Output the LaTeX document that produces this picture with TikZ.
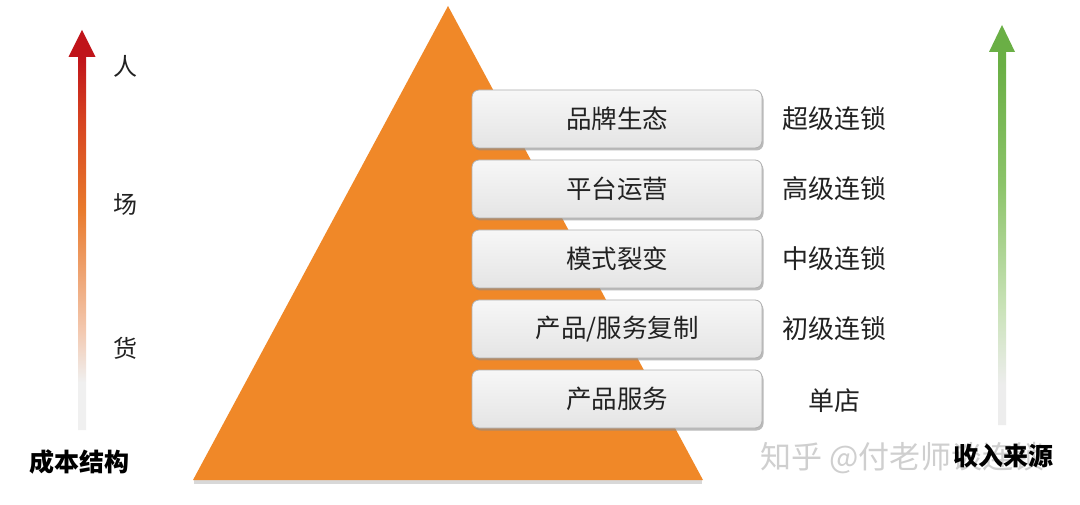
\documentclass[tikz,border=0pt]{standalone}
\usepackage{fontspec}
\setmainfont{Noto Sans CJK SC}
\usetikzlibrary{shadows}
\definecolor{tri}{HTML}{F08828}
\definecolor{boxtop}{HTML}{F7F7F7}
\definecolor{boxbot}{HTML}{E4E4E4}
\definecolor{boxline}{HTML}{B0B0B0}
\definecolor{txt}{HTML}{222222}
\definecolor{wm}{HTML}{CFCFCF}
\pgfdeclareverticalshading{costfade}{100bp}{%
  color(0bp)=(black!6); color(25bp)=(black!6); color(31bp)=(black!6!white);
  color(37.5bp)=(rgb,255:red,243;green,200;blue,175);
  color(52.5bp)=(rgb,255:red,233;green,122;blue,44); color(64bp)=(rgb,255:red,214;green,66;blue,32);
  color(71.5bp)=(rgb,255:red,192;green,20;blue,26); color(100bp)=(rgb,255:red,192;green,20;blue,26)}
\pgfdeclareverticalshading{incomefade}{100bp}{%
  color(0bp)=(black!7); color(30bp)=(black!7); color(40bp)=(rgb,255:red,200;green,226;blue,182);
  color(55bp)=(rgb,255:red,140;green,196;blue,106); color(70bp)=(rgb,255:red,106;green,175;blue,69);
  color(100bp)=(rgb,255:red,106;green,175;blue,69)}
\tikzset{
  layer/.style={rounded corners=7pt, draw=boxline, line width=0.8pt,
    top color=boxtop, bottom color=boxbot, minimum width=290pt, minimum height=58pt,
    drop shadow={shadow xshift=1.5pt, shadow yshift=-2.5pt, fill=black!45, opacity=0.6},
    font=\fontsize{25.5}{28}\selectfont, text=txt, inner sep=0pt},
  lvl/.style={font=\fontsize{26}{28}\selectfont, text=txt},
  side/.style={font=\fontsize{24}{28}\selectfont, text=txt},
  title/.style={font=\fontsize{25}{28}\selectfont\bfseries, text=black},
  wmtext/.style={font=\fontsize{31}{34}\selectfont, text=wm}
}
\begin{document}
\begin{tikzpicture}[x=1pt,y=-1pt]
\useasboundingbox (0,0) rectangle (1080,505);
\fill[white] (0,0) rectangle (1080,505);
% pyramid
\coordinate (apex) at (448,6);
\coordinate (bl) at (193,480);
\coordinate (br) at (703,480);
\fill[black!30, opacity=0.5] (194,480) -- (702,480) -- (702,484) -- (194,484) -- cycle;
\fill[tri] (apex) -- (br) -- (bl) -- cycle;
% layers
\node[layer] (l5) at (617,119) {品牌生态};
\node[layer] (l4) at (617,189) {平台运营};
\node[layer] (l3) at (617,259) {模式裂变};
\node[layer] (l2) at (617,329) {产品/服务复制};
\node[layer] (l1) at (617,399) {产品服务};
% level labels
\node[lvl] (r5) at (834,119) {超级连锁};
\node[lvl] (r4) at (834,189) {高级连锁};
\node[lvl] (r3) at (834,259) {中级连锁};
\node[lvl] (r2) at (834,329) {初级连锁};
\node[lvl] (r1) at (834,401) {单店};
% left arrow
\shade[shading=costfade]
  (82,30) -- (95.5,57) -- (86,57) -- (86,430) -- (78,430) -- (78,57) -- (68.5,57) -- cycle;
\node[side] (ren) at (125,66) {人};
\node[side] (chang) at (125,205) {场};
\node[side] (huo) at (125,348) {货};
\node[title] (cost) at (80,462) {成本结构};
% right arrow
\shade[shading=incomefade]
  (1002,25) -- (1015,52) -- (1006,52) -- (1006,425) -- (998,425) -- (998,52) -- (989,52) -- cycle;
% watermark and income label
\node[wmtext, anchor=west, inner sep=0pt] (wmk) at (760,458) {知乎 @付老师谈连锁};
\node[title] (income) at (1003,456) {收入来源};
\end{tikzpicture}
\end{document}
